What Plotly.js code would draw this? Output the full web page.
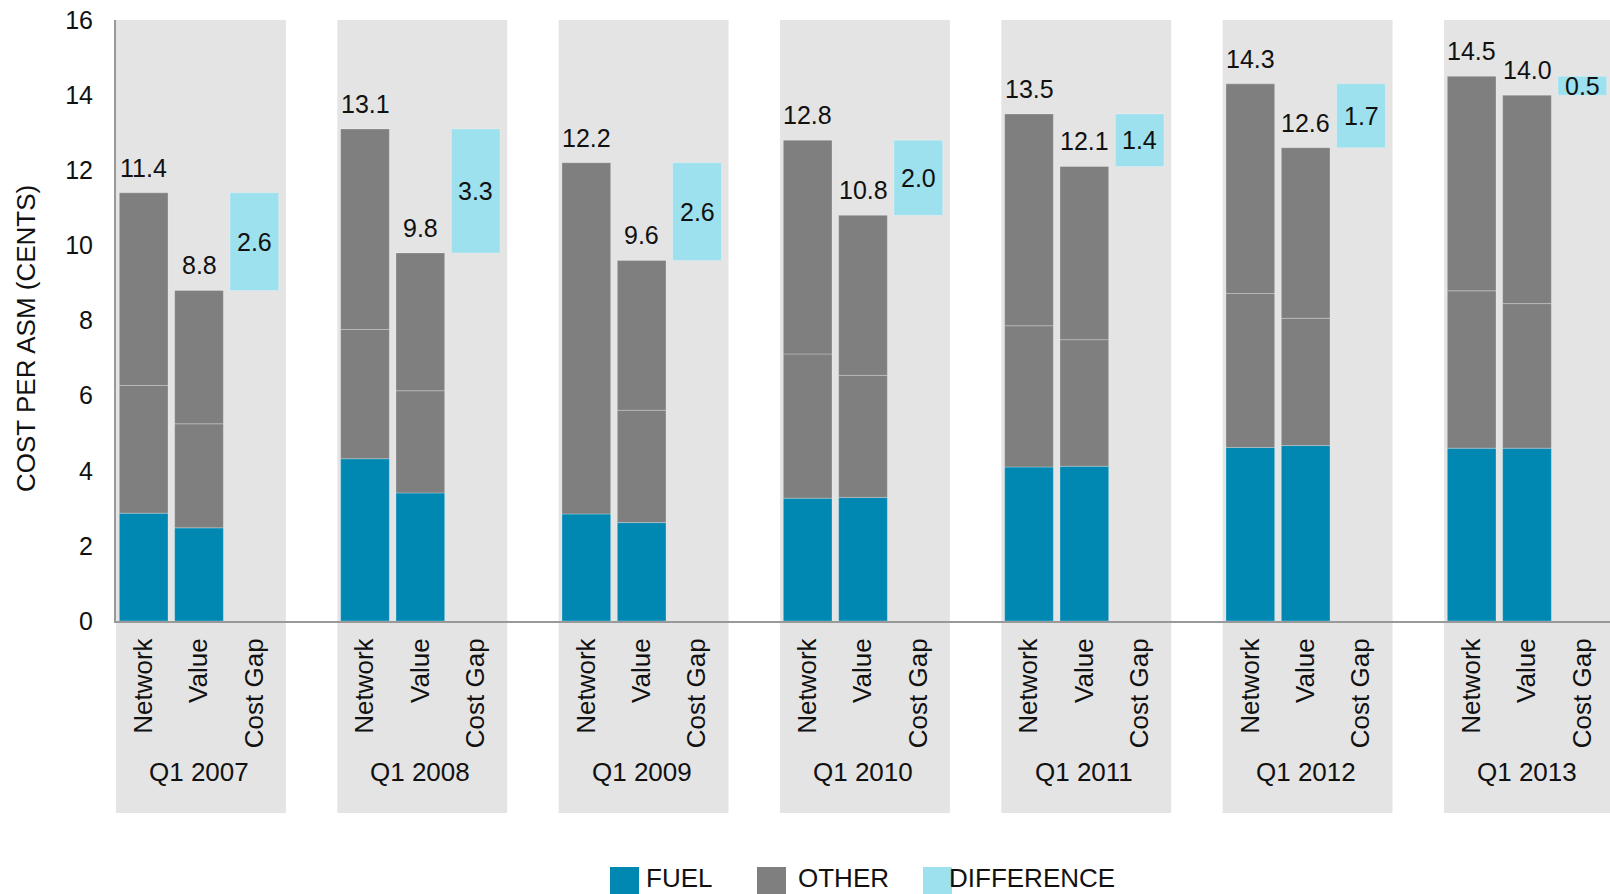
<!DOCTYPE html>
<html>
<head>
<meta charset="utf-8">
<script src="https://cdn.plot.ly/plotly-3.0.1.min.js"></script>
<style>
  html, body { margin: 0; padding: 0; background: #fff; }
  #chart { width: 1610px; height: 894px; }
</style>
</head>
<body>
<div id="chart"></div>
<script>
// ---------------- data ----------------
const quarters = ['Q1 2007', 'Q1 2008', 'Q1 2009', 'Q1 2010', 'Q1 2011', 'Q1 2012', 'Q1 2013'];
const barNames = ['Network', 'Value', 'Cost Gap'];
const networkTotal = [11.4, 13.1, 12.2, 12.8, 13.5, 14.3, 14.5];
const valueTotal   = [8.8, 9.8, 9.6, 10.8, 12.1, 12.6, 14.0];
const networkFuel  = [2.87, 4.32, 2.85, 3.27, 4.10, 4.62, 4.60];
const valueFuel    = [2.48, 3.41, 2.62, 3.29, 4.12, 4.67, 4.60];
// level of the faint divider inside the grey OTHER segment (null = no divider)
const networkOtherSplit = [6.27, 7.76, null, 7.11, 7.86, 8.72, 8.79];
const valueOtherSplit   = [5.25, 6.13, 5.61, 6.54, 7.49, 8.06, 8.45];
const costGap = [2.6, 3.3, 2.6, 2.0, 1.4, 1.7, 0.5];
const legendNames = ['FUEL', 'OTHER', 'DIFFERENCE'];
const yTitle = 'COST PER ASM (CENTS)';

// ---------------- style ----------------
const FONT = 'Liberation Sans, Arial, Helvetica, sans-serif';
const C_FUEL = '#0088B3';
const C_OTHER = '#7F7F7F';
const C_DIFF = '#9DE0EE';
const C_PANEL = '#E4E4E4';
const TXT = '#111111';
const SLOTS = 4;           // 3 bars + 1 gap slot per quarter
const BAR_W = 0.88;
const X_RANGE = [-0.5, quarters.length * SLOTS - 1.5];

// ---------------- build traces ----------------
const xs = [], fuel = [], lowY = [], lowBase = [], highY = [], highBase = [];
const totals = [], totalX = [];
quarters.forEach((q, g) => {
  [[networkFuel[g], networkOtherSplit[g], networkTotal[g]],
   [valueFuel[g], valueOtherSplit[g], valueTotal[g]]].forEach((d, j) => {
    const [f, s, t] = d;
    const split = (s === null) ? t : s;
    xs.push(g * SLOTS + j);
    fuel.push(f);
    lowBase.push(f); lowY.push(split - f);
    highBase.push(split); highY.push(t - split > 0 ? t - split : null);
    totals.push(t); totalX.push(g * SLOTS + j);
  });
});
const diffX = quarters.map((q, g) => g * SLOTS + 2);

const edge = { color: 'rgba(255,255,255,0.25)', width: 1 };
const traces = [
  { type: 'bar', name: legendNames[0], x: xs, y: fuel, base: xs.map(() => 0),
    width: BAR_W, marker: { color: C_FUEL, line: edge }, hoverinfo: 'skip' },
  { type: 'bar', name: legendNames[1], x: xs, y: lowY, base: lowBase,
    width: BAR_W, marker: { color: C_OTHER, line: edge }, hoverinfo: 'skip' },
  { type: 'bar', name: legendNames[1] + ' (upper)', x: xs, y: highY, base: highBase,
    width: BAR_W, marker: { color: C_OTHER, line: edge }, hoverinfo: 'skip' },
  { type: 'bar', name: legendNames[2], x: diffX, y: costGap, base: valueTotal,
    width: BAR_W, marker: { color: C_DIFF, line: edge }, hoverinfo: 'skip' }
];

// ---------------- ticks ----------------
const tickvals = [], ticktext = [];
quarters.forEach((q, g) => barNames.forEach((n, j) => { tickvals.push(g * SLOTS + j); ticktext.push(n); }));

// ---------------- geometry helpers (paper coords) ----------------
const W = 1610, H = 894;
const M = { l: 116, r: 0, t: 20, b: 273 };
const plotW = W - M.l - M.r, plotH = H - M.t - M.b;
const xToPaper = v => (v - X_RANGE[0]) / (X_RANGE[1] - X_RANGE[0]);
const pxX = px => (px - M.l) / plotW;
const pxY = py => (H - M.b - py) / plotH;

// ---------------- shapes: quarter panels ----------------
const shapes = quarters.map((q, g) => ({
  type: 'rect', layer: 'below', xref: 'paper', yref: 'paper',
  x0: xToPaper(g * SLOTS - 0.5), x1: xToPaper(g * SLOTS + 2.57),
  y0: pxY(813), y1: 1,
  fillcolor: C_PANEL, line: { width: 0 }
}));

// ---------------- annotations ----------------
const annotations = [];
totals.forEach((t, i) => annotations.push({
  x: totalX[i], y: t, xref: 'x', yref: 'y', text: t.toFixed(1),
  showarrow: false, yanchor: 'bottom', yshift: 9,
  font: { family: FONT, size: 25, color: TXT }
}));
costGap.forEach((d, g) => annotations.push({
  x: diffX[g], y: valueTotal[g] + d / 2, xref: 'x', yref: 'y', text: d.toFixed(1),
  showarrow: false, yanchor: 'middle',
  font: { family: FONT, size: 25, color: TXT }
}));
quarters.forEach((q, g) => annotations.push({
  x: g * SLOTS + 1, y: pxY(772), xref: 'x', yref: 'paper', text: q,
  showarrow: false, yanchor: 'middle', xanchor: 'center',
  font: { family: FONT, size: 26, color: TXT }
}));
// y axis title
annotations.push({
  x: pxX(26), y: pxY(339), xref: 'paper', yref: 'paper', text: yTitle,
  textangle: -90, showarrow: false, xanchor: 'center', yanchor: 'middle',
  font: { family: FONT, size: 26, color: TXT }
});

// custom legend
const legendItems = [
  { name: legendNames[0], color: C_FUEL, sx: 610, tx: 645 },
  { name: legendNames[1], color: C_OTHER, sx: 757, tx: 797 },
  { name: legendNames[2], color: C_DIFF, sx: 923, tx: 948 }
];
legendItems.forEach(it => {
  shapes.push({
    type: 'rect', xref: 'paper', yref: 'paper',
    x0: pxX(it.sx), x1: pxX(it.sx + 29), y0: pxY(894), y1: pxY(867),
    fillcolor: it.color, line: { width: 0 }
  });
  annotations.push({
    x: pxX(it.tx), y: pxY(878), xref: 'paper', yref: 'paper', text: it.name,
    showarrow: false, xanchor: 'left', yanchor: 'middle', borderpad: 0,
    font: { family: FONT, size: 26, color: TXT }
  });
});

const layout = {
  width: W, height: H,
  margin: M,
  paper_bgcolor: '#ffffff', plot_bgcolor: 'rgba(0,0,0,0)',
  barmode: 'overlay',
  showlegend: false,
  font: { family: FONT, color: TXT },
  xaxis: {
    range: X_RANGE, tickvals: tickvals, ticktext: ticktext, tickangle: -90,
    tickfont: { family: FONT, size: 26, color: TXT },
    showgrid: false, zeroline: false, showline: true, linecolor: '#999999', linewidth: 2,
    ticks: '', ticklabelstandoff: 5, fixedrange: true
  },
  yaxis: {
    range: [0, 16], dtick: 2, tick0: 0,
    tickfont: { family: FONT, size: 25, color: TXT },
    showgrid: false, zeroline: false, showline: true, linecolor: '#999999', linewidth: 2,
    ticks: '', ticklabelstandoff: 16,
    fixedrange: true
  },
  shapes: shapes,
  annotations: annotations
};

Plotly.newPlot('chart', traces, layout, { displayModeBar: false, staticPlot: true });
</script>
</body>
</html>
